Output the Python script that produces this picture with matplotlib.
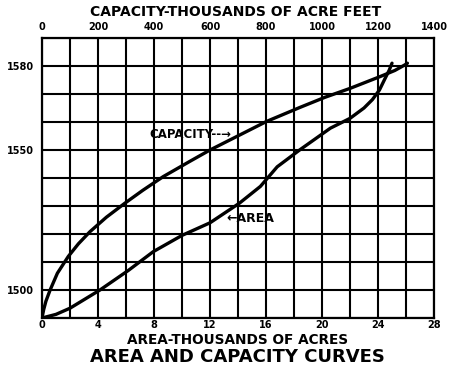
import matplotlib
matplotlib.use('Agg')
import matplotlib.pyplot as plt
import numpy as np

plt.rcParams['font.family'] = ['DejaVu Sans']

# 库容曲线: 库容(千英亩英尺) 与 高程
capacity = [0, 6, 14, 29, 55, 94, 130, 171, 230, 296, 360, 433, 529, 600,
            707, 802, 921, 1010, 1100, 1207, 1260, 1296, 1305]
cap_elev = [1490, 1493, 1496, 1500, 1506, 1512, 1516.5, 1520.8, 1526, 1531,
            1535.6, 1540.5, 1546, 1550, 1555.4, 1560.2, 1565.2, 1568.8,
            1572, 1576.2, 1578.4, 1580.4, 1581]

# 面积曲线: 面积(千英亩) 与 高程
area = [0, 1, 2, 4.14, 6.17, 7.95, 10, 12, 14.1, 15.6, 16.8, 18.4, 20.6,
        22, 23, 23.6, 24.1, 24.5, 24.8, 25.0]
area_elev = [1490, 1491.3, 1493.5, 1500, 1507, 1513.7, 1519.5, 1524, 1531,
             1537, 1544, 1550, 1557.8, 1561.3, 1565, 1568, 1571.4, 1575.5,
             1578.5, 1581]

area_ticks = [0, 4, 8, 12, 16, 20, 24, 28]
cap_ticks = [0, 200, 400, 600, 800, 1000, 1200, 1400]
elev_ticks = [1500, 1550, 1580]

fig = plt.figure(figsize=(4.51, 3.76), dpi=100)
ax = fig.add_axes([42 / 451, 58 / 376, 392 / 451, 280 / 376])

ax.set_xlim(0, 28)
ax.set_ylim(1490, 1590)

# 网格
ax.set_xticks(area_ticks)
ax.set_xticks(np.arange(0, 29, 2), minor=True)
ax.set_yticks(elev_ticks)
ax.set_yticks(np.arange(1490, 1591, 10), minor=True)
ax.grid(True, which='both', color='black', linewidth=1.5)
ax.tick_params(which='both', length=0)
ax.tick_params(axis='x', pad=1.5)
ax.tick_params(axis='y', pad=6)
for lab in ax.get_xticklabels() + ax.get_yticklabels():
    lab.set_fontsize(7)
    lab.set_fontweight('bold')
for s in ax.spines.values():
    s.set_linewidth(1.6)

# 面积曲线
ax.plot(area, area_elev, color='black', linewidth=2.4,
        solid_capstyle='round', solid_joinstyle='round')

# 上方库容坐标轴
ax2 = ax.twiny()
ax2.set_xlim(0, 1400)
ax2.set_xticks(cap_ticks)
ax2.tick_params(length=0, pad=4)
for lab in ax2.get_xticklabels():
    lab.set_fontsize(7)
    lab.set_fontweight('bold')
for s in ax2.spines.values():
    s.set_visible(False)
ax2.plot(capacity, cap_elev, color='black', linewidth=2.4,
         solid_capstyle='round', solid_joinstyle='round')

# 曲线标注
ax.text(7.7, 1555.4, 'CAPACITY--→', fontsize=8.5, fontweight='bold',
        ha='left', va='center')
ax.text(13.2, 1525.7, '←AREA', fontsize=9, fontweight='bold',
        ha='left', va='center')

# 标题
fig.text(236 / 451, 1 - 12 / 376, 'CAPACITY-THOUSANDS OF ACRE FEET',
         fontsize=10, fontweight='bold', ha='center', va='center')
fig.text(238 / 451, 1 - 340 / 376, 'AREA-THOUSANDS OF ACRES',
         fontsize=9.8, fontweight='bold', ha='center', va='center')
fig.text(237 / 451, 1 - 357 / 376, 'AREA AND CAPACITY CURVES',
         fontsize=13, fontweight='bold', ha='center', va='center')

fig.savefig('out.png', dpi=100)
